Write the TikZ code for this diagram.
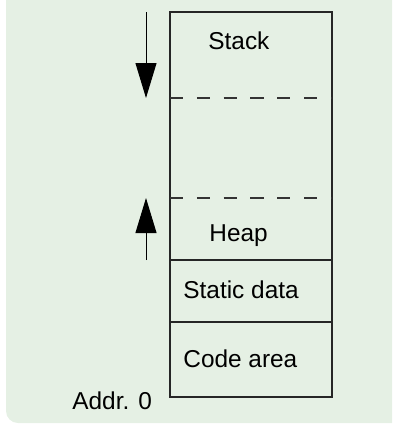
\documentclass[tikz,border=0pt]{standalone}
\usepackage{fontspec}
\setmainfont{Liberation Sans}
\usetikzlibrary{arrows.meta}
\definecolor{panelgreen}{RGB}{229,240,228}
\tikzset{
  wall/.style={draw=black!85, line width=0.75pt},
  gapline/.style={draw=black!80, line width=0.6pt, dash pattern=on 6.6pt off 6.8pt},
  growarrow/.style={->, draw=black, line width=0.5pt},
  lbl/.style={anchor=base west, inner sep=0pt, font=\fontsize{12.2}{14}\selectfont},
}
\begin{document}
\begin{tikzpicture}[x=0.5pt, y=-0.5pt, >={Triangle[width=10.5pt,length=17.5pt]}]
		\useasboundingbox (0,0) rectangle (392,424);
		\clip (0,0) rectangle (392,424);
		\fill[panelgreen, rounded corners=6] (6,-20) rectangle (412,423);

		% memory column
		\coordinate (tl) at (170,12);
		\coordinate (br) at (332,397);
		\coordinate (stackl) at (170,98);
		\coordinate (stackr) at (332,98);
		\coordinate (heapl) at (170,198);
		\coordinate (heapr) at (332,198);
		\coordinate (statl) at (170,260);
		\coordinate (statr) at (332,260);
		\coordinate (codel) at (170,322);
		\coordinate (coder) at (332,322);
		\draw[wall] (tl) rectangle (br);
		\draw[gapline] (stackl)--(stackr);
		\draw[gapline] (heapl)--(heapr);
		\draw[wall] (statl)--(statr);
		\draw[wall] (codel)--(coder);

		\node (stack) [lbl] at (208,49) {Stack};
		\node (heap) [lbl] at (209,241) {Heap};
		\node (static) [lbl] at (183,298) {Static data};
		\node (code) [lbl] at (183,367) {Code area};
		\node (addr) [lbl] at (72,409) {Addr. 0};

		% growth directions
		\coordinate (sfrom) at (146,12);
		\coordinate (sto) at (146,98);
		\coordinate (hfrom) at (146,260);
		\coordinate (hto) at (146,198);
		\draw[growarrow] (sfrom)--(sto);
		\draw[growarrow] (hfrom)--(hto);
	\end{tikzpicture}
\end{document}
